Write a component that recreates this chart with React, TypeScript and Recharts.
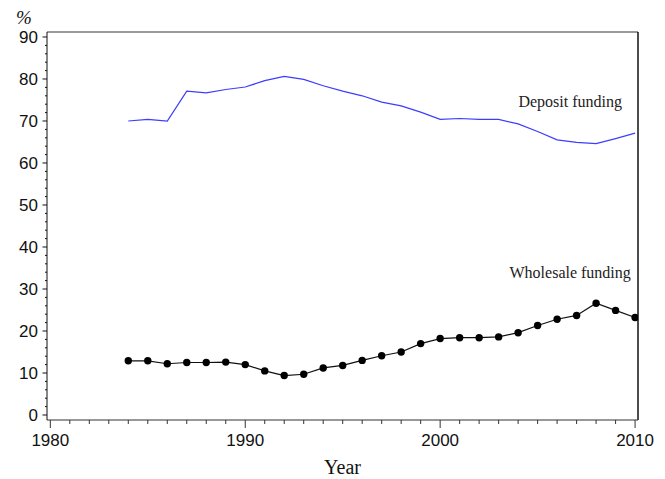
import { LineChart, Line, XAxis, YAxis, ReferenceLine, ReferenceDot } from 'recharts';

const YEARS = [
  1984, 1985, 1986, 1987, 1988, 1989, 1990, 1991, 1992, 1993, 1994, 1995, 1996, 1997,
  1998, 1999, 2000, 2001, 2002, 2003, 2004, 2005, 2006, 2007, 2008, 2009, 2010,
];

const DEPOSIT = [
  70.0, 70.4, 70.0, 77.1, 76.7, 77.5, 78.1, 79.6, 80.6, 79.9, 78.4, 77.1, 76.0, 74.5,
  73.6, 72.1, 70.4, 70.6, 70.4, 70.4, 69.3, 67.5, 65.5, 64.9, 64.6, 65.8, 67.1,
];

const WHOLESALE = [
  12.9, 12.9, 12.2, 12.5, 12.5, 12.6, 12.0, 10.5, 9.4, 9.7, 11.2, 11.8, 13.0, 14.1,
  15.0, 17.0, 18.2, 18.4, 18.4, 18.6, 19.6, 21.3, 22.8, 23.7, 26.6, 24.9, 23.2,
];

const X_TICKS = Array.from({ length: 31 }, (_, i) => 1980 + i);
const Y_TICKS = Array.from({ length: 46 }, (_, i) => i * 2);

const X_DOMAIN: [number, number] = [1979.83, 2010.15];
const Y_DOMAIN: [number, number] = [-1.19, 91.19];

const rows = YEARS.map((year, i) => ({
  year,
  deposit: DEPOSIT[i],
  wholesale: WHOLESALE[i],
}));

const SANS = '"Liberation Sans", Arial, sans-serif';
const SERIF = '"Liberation Serif", "Times New Roman", serif';

function XTick(props: any) {
  const { x, y, payload } = props;
  const major = payload.value % 10 === 0;
  return (
    <g>
      <line x1={x} y1={y} x2={x} y2={y + (major ? 8 : 4)} stroke="#333" strokeWidth={1} />
      {major && (
        <text x={x} y={y + 26} textAnchor="middle" fontFamily={SANS} fontSize={17} fill="#111">
          {payload.value}
        </text>
      )}
    </g>
  );
}

function YTick(props: any) {
  const { x, y, payload } = props;
  const major = payload.value % 10 === 0;
  return (
    <g>
      <line x1={x - (major ? 4.5 : 2)} y1={y} x2={x} y2={y} stroke="#111" strokeWidth={1} />
      {major && (
        <text x={x - 9} y={y + 6} textAnchor="end" fontFamily={SANS} fontSize={17} fill="#111">
          {payload.value}
        </text>
      )}
    </g>
  );
}

function SeriesLabel(text: string) {
  return (props: any) => {
    const { viewBox } = props;
    return (
      <text
        x={viewBox.x}
        y={viewBox.y + 5}
        textAnchor="middle"
        fontFamily={SERIF}
        fontSize={16}
        fill="#222"
      >
        {text}
      </text>
    );
  };
}

export default function App() {
  return (
    <div style={{ position: 'absolute', left: 0, top: 0, width: 665, height: 479, background: '#fff' }}>
      <LineChart
        width={665}
        height={479}
        data={rows}
        margin={{ top: 32, right: 27, bottom: 9, left: 0 }}
      >
        <XAxis
          dataKey="year"
          type="number"
          domain={X_DOMAIN}
          ticks={X_TICKS}
          allowDataOverflow
          interval={0}
          height={50}
          tickSize={0}
          tickMargin={0}
          tickLine={false}
          axisLine={{ stroke: '#333', strokeWidth: 1 }}
          tick={<XTick />}
          label={{
            value: 'Year',
            position: 'insideBottom',
            offset: -4,
            fontFamily: SERIF,
            fontSize: 20,
            fill: '#111',
          }}
        />
        <YAxis
          type="number"
          domain={Y_DOMAIN}
          ticks={Y_TICKS}
          allowDataOverflow
          interval={0}
          width={47}
          tickSize={0}
          tickMargin={0}
          tickLine={false}
          axisLine={{ stroke: '#111', strokeWidth: 1 }}
          tick={<YTick />}
        />
        <ReferenceLine y={Y_DOMAIN[1]} stroke="#777" strokeWidth={1.5} />
        <ReferenceLine x={X_DOMAIN[1]} stroke="#111" strokeWidth={1.5} />
        <Line
          dataKey="deposit"
          stroke="#3d3dff"
          strokeWidth={1.2}
          dot={false}
          isAnimationActive={false}
        />
        <Line
          dataKey="wholesale"
          stroke="#111"
          strokeWidth={1.2}
          dot={{ r: 3.7, fill: '#000', stroke: '#000', strokeWidth: 0 }}
          isAnimationActive={false}
        />
        <ReferenceDot x={2006.67} y={74.6} r={0} stroke="none" label={SeriesLabel('Deposit funding')} />
        <ReferenceDot x={2006.67} y={33.7} r={0} stroke="none" label={SeriesLabel('Wholesale funding')} />
      </LineChart>
      <div
        style={{
          position: 'absolute',
          left: 16,
          top: 7,
          fontFamily: SERIF,
          fontStyle: 'italic',
          fontSize: 19,
          color: '#111',
        }}
      >
        %
      </div>
    </div>
  );
}
